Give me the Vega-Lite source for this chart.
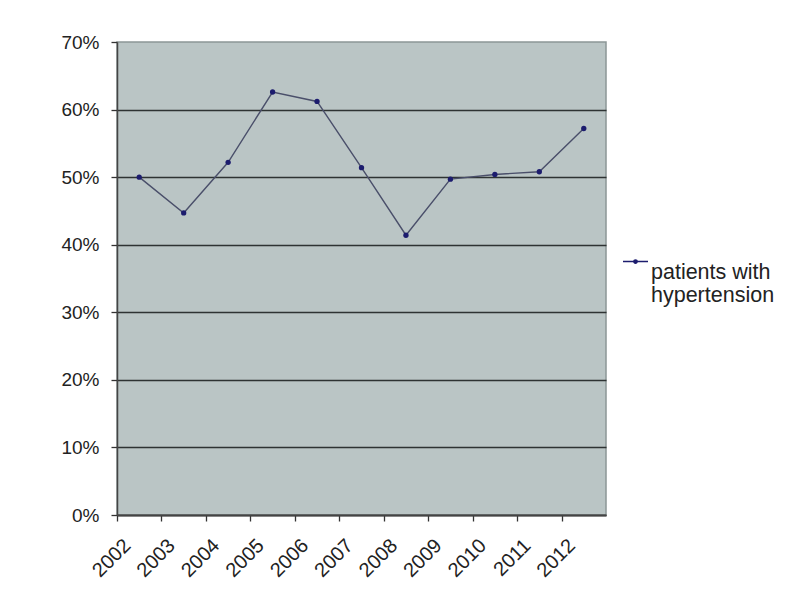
{
  "$schema": "https://vega.github.io/schema/vega-lite/v6.json",
  "width": 489,
  "height": 473,
  "autosize": {"type": "none"},
  "padding": {"left": 117, "top": 42, "right": 179, "bottom": 78},
  "background": "white",
  "config": {
    "font": "Liberation Sans",
    "view": {"fill": "#bac5c5", "stroke": "#8c9696", "strokeWidth": 1.5}
  },
  "data": {
    "values": [
      {"year": "2002", "series": "patients with hypertension", "value": 0.500},
      {"year": "2003", "series": "patients with hypertension", "value": 0.447},
      {"year": "2004", "series": "patients with hypertension", "value": 0.522},
      {"year": "2005", "series": "patients with hypertension", "value": 0.626},
      {"year": "2006", "series": "patients with hypertension", "value": 0.612},
      {"year": "2007", "series": "patients with hypertension", "value": 0.514},
      {"year": "2008", "series": "patients with hypertension", "value": 0.414},
      {"year": "2009", "series": "patients with hypertension", "value": 0.497},
      {"year": "2010", "series": "patients with hypertension", "value": 0.504},
      {"year": "2011", "series": "patients with hypertension", "value": 0.508},
      {"year": "2012", "series": "patients with hypertension", "value": 0.572}
    ]
  },
  "encoding": {
    "x": {
      "field": "year",
      "type": "ordinal",
      "scale": {"paddingInner": 0, "paddingOuter": 0},
      "axis": {
        "title": null,
        "labelAngle": -45,
        "labelAlign": "right",
        "labelBaseline": "top",
        "labelFontSize": 20,
        "labelColor": "#222",
        "labelPadding": 14,
        "labelOffset": 3,
        "tickBand": "center",
        "tickOffset": -22.25,
        "tickSize": 6,
        "tickColor": "#333",
        "tickWidth": 1.3,
        "domainColor": "#444",
        "domainWidth": 1.8,
        "grid": false
      }
    },
    "y": {
      "field": "value",
      "type": "quantitative",
      "scale": {"domain": [0, 0.7]},
      "axis": {
        "title": null,
        "values": [0, 0.1, 0.2, 0.3, 0.4, 0.5, 0.6, 0.7],
        "format": ".0%",
        "labelFontSize": 19,
        "labelColor": "#222",
        "labelPadding": 12,
        "tickSize": 6,
        "tickColor": "#333",
        "tickWidth": 1.3,
        "domainColor": "#444",
        "domainWidth": 1.5,
        "grid": true,
        "gridColor": {"condition": {"test": "datum.value >= 0.69", "value": "transparent"}, "value": "#2e3333"},
        "gridWidth": 1.3
      }
    }
  },
  "layer": [
    {
      "mark": {"type": "line", "stroke": "#4a4f6a", "strokeWidth": 1.4},
      "encoding": {}
    },
    {
      "mark": {"type": "point", "filled": true, "size": 28, "opacity": 1},
      "encoding": {
        "color": {
          "field": "series",
          "type": "nominal",
          "scale": {"range": ["#1c1c6e"]},
          "legend": {
            "title": null,
            "orient": "none",
            "legendX": 505,
            "legendY": 206,
            "labelFontSize": 21.5,
            "labelColor": "#222",
            "labelLimit": 300,
            "labelExpr": "['patients with', 'hypertension']",
            "labelBaseline": "top",
            "labelLineHeight": 25,
            "labelOffset": 2,
            "symbolType": "M-1,0L1,0M-0.13,0A0.13,0.13 0 1,0 0.13,0A0.13,0.13 0 1,0 -0.13,0Z",
            "symbolSize": 625,
            "symbolStrokeColor": "#1c1c6e",
            "symbolStrokeWidth": 1.5,
            "symbolOffset": 0
          }
        }
      }
    }
  ]
}
